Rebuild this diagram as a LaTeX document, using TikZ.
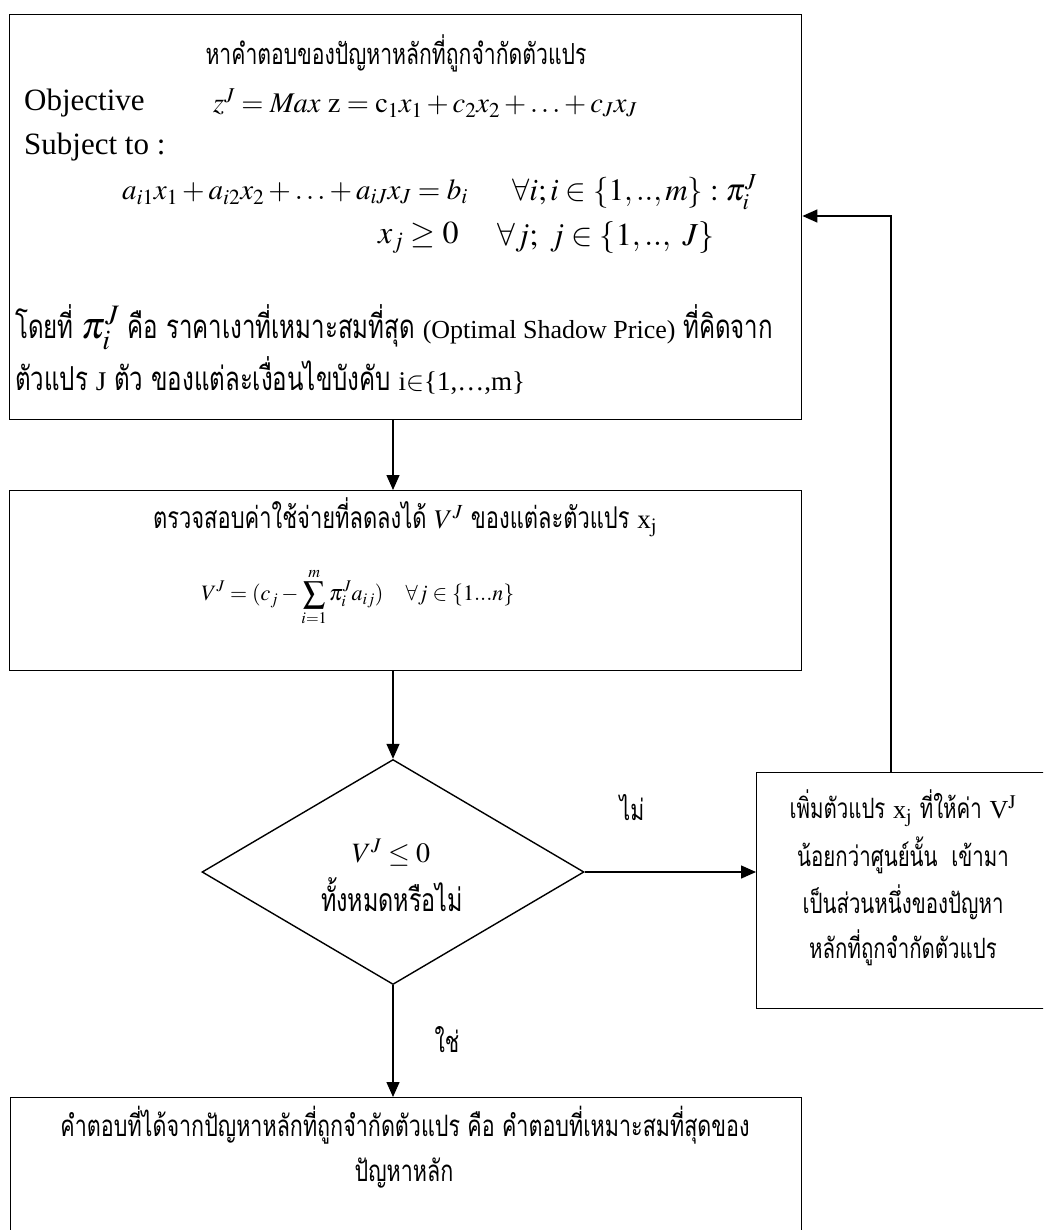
\documentclass[tikz,border=0pt]{standalone}
\usepackage{mathptmx}
\usepackage[no-math]{fontspec}
\setmainfont{Liberation Serif}
\newfontfamily\thaifont[Script=Thai,FakeStretch=0.73]{Loma}
\usetikzlibrary{arrows.meta,shapes.geometric}

% Thai runs are set in their own family, at a given size
\newcommand{\tx}[2][30]{{\thaifont\fontsize{#1}{46}\selectfont #2}}
% formulas of the master problem, at a given size
\newcommand{\lpm}[2][32]{{\fontsize{#1}{40}\selectfont$#2$}}
\newcommand{\lat}[2][26]{{\fontsize{#1}{40}\selectfont #2}}

\tikzset{
  frame/.style={draw, line width=1.4pt, rectangle, inner sep=0pt, anchor=north west},
  decision/.style={draw, line width=1.4pt, diamond, inner sep=0pt, minimum width=382pt, minimum height=225pt},
  arr/.style={line width=1.4pt, -{Triangle[length=15pt,width=13pt]}},
  txt/.style={inner sep=0pt, font=\fontsize{31}{46}\selectfont},
}

\begin{document}
\begin{tikzpicture}[x=1pt, y=-1pt]
\useasboundingbox (0,0) rectangle (1043,1230);
\clip (0,0) rectangle (1043,1230);
\fill[white] (0,0) rectangle (1043,1230);

% ---- restricted master problem
\node[frame, minimum width=792pt, minimum height=405pt] (b1) at (9,14) {};
\node[txt] (t1) at (396,53) {\tx[29]{หาคำตอบของปัญหาหลักที่ถูกจำกัดตัวแปร}};
\node[txt, anchor=west] (obj) at (24,103) {Objective};
\node[txt, anchor=west] (objf) at (213,103) {\lpm[28.5]{z^{J} = \mathit{Max}\ \mathrm{z} = \mathrm{c}_{1}x_{1} + c_{2}x_{2} + \ldots + c_{J}x_{J}}};
\node[txt, anchor=west] (subj) at (24,147) {Subject to :};
\node[txt, anchor=west] (con1) at (122,192) {\lpm[29]{a_{i1}x_{1} + a_{i2}x_{2} + \ldots + a_{iJ}x_{J} = b_{i}}};
\node[txt, anchor=west] (con1q) at (512,192) {\lpm[31]{\forall i; i \in \{1,..,m\} : \pi_{i}^{J}}};
\node[txt, anchor=west] (con2) at (378,238) {\lpm[32]{x_{j} \geq 0}};
\node[txt, anchor=west] (con2q) at (497,238) {\lpm[32]{\forall j;\ j \in \{1,..,\ J\}}};
\node[txt, anchor=west] (note1) at (15,327) {\tx[33]{โดยที่} {\fontsize{38}{40}\selectfont$\pi_{i}^{J}$} \tx[33]{คือ ราคาเงาที่เหมาะสมที่สุด} \lat{(Optimal Shadow Price)} \tx[33]{ที่คิดจาก}};
\node[txt, anchor=west] (note2) at (15,376) {\tx[33]{ตัวแปร} \lat[27]{J} \tx[33]{ตัว ของแต่ละเงื่อนไขบังคับ} \lat[27]{i$\in$\{1,…,m\}}};

% ---- reduced cost check
\node[frame, minimum width=792pt, minimum height=180pt] (b2) at (9,490) {};
\node[txt] (t2) at (405,517) {\tx{ตรวจสอบค่าใช้จ่ายที่ลดลงได้} \lat[27]{$V^{J}$} \tx{ของแต่ละตัวแปร} \lat[27]{x$_{\mathrm{j}}$}};
\node[txt] (f2) at (358,597) {\fontsize{22}{30}\selectfont$\displaystyle V^{J} = (c_{j} - \sum_{i=1}^{m} \pi_{i}^{J} a_{ij}) \quad \forall j \in \{1...n\}$};

% ---- decision
\node[decision] (d) at (393,872) {};
\node[txt] (d1) at (391,853) {\lpm[28]{V^{J} \leq 0}};
\node[txt] (d2) at (392,895) {\tx[32]{ทั้งหมดหรือไม่}};

% ---- add columns
\node[frame, minimum width=294pt, minimum height=236pt] (rb) at (756,772) {};
\node[txt] (r1) at (903,808) {\tx[28]{เพิ่มตัวแปร} \lat{x$_{\mathrm{j}}$} \tx[28]{ที่ให้ค่า} \lat{V$^{\mathrm{J}}$}};
\node[txt] (r2) at (903,855) {\tx[28]{น้อยกว่าศูนย์นั้น\ \ เข้ามา}};
\node[txt] (r3) at (903,902) {\tx[28]{เป็นส่วนหนึ่งของปัญหา}};
\node[txt] (r4) at (903,948) {\tx[28]{หลักที่ถูกจำกัดตัวแปร}};

% ---- optimal solution
\node[frame, minimum width=791pt, minimum height=200pt] (b3) at (10,1097) {};
\node[txt] (t3a) at (405,1125) {\tx[29.5]{คำตอบที่ได้จากปัญหาหลักที่ถูกจำกัดตัวแปร คือ คำตอบที่เหมาะสมที่สุดของ}};
\node[txt] (t3b) at (404,1173) {\tx[29.5]{ปัญหาหลัก}};

% ---- branch labels
\node[txt] (no) at (632,808) {\tx[29]{ไม่}};
\node[txt] (yes) at (447,1040) {\tx[29]{ใช่}};

% ---- connectors
\coordinate (loopx) at (891,772);
\coordinate (loopy) at (891,216);
\draw[arr] (d.north |- b1.south) -- (d.north |- b2.north);
\draw[arr] (d.north |- b2.south) -- (d.north);
\draw[arr] (d.east) -- (rb.west |- d.east);
\draw[arr] (d.south) -- (d.south |- b3.north);
\draw[arr] (loopx) -- (loopy) -- (b1.east |- loopy);
\end{tikzpicture}
\end{document}
